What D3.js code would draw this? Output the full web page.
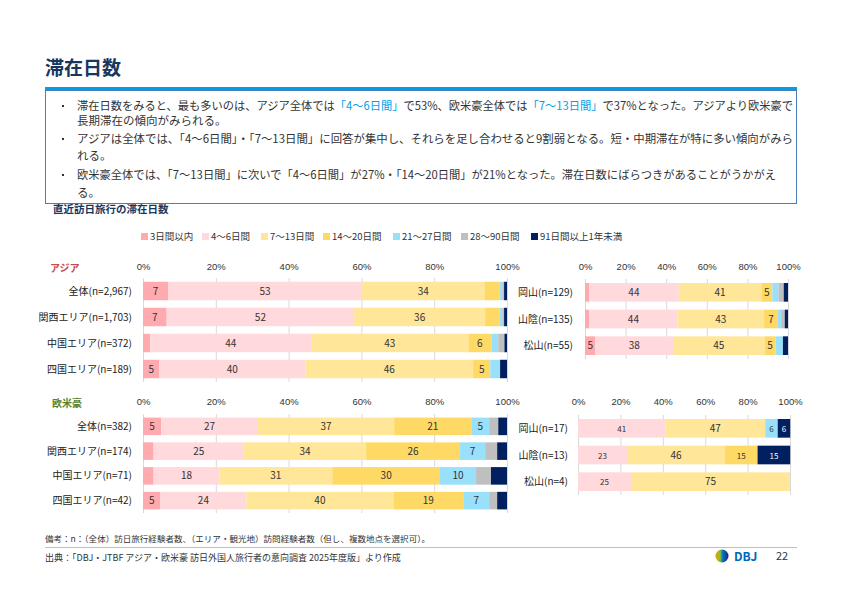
<html>
<head>
<meta charset="utf-8">
<script src="https://d3js.org/d3.v7.min.js"></script>
<style>
body { margin: 0; background: #fff; }
svg { display: block; font-family: "Noto Sans CJK JP", "Noto Sans", sans-serif; }
</style>
</head>
<body>
<div id="canvas"></div>
<script>
// legend / series
var series = ["3日間以内", "4～6日間", "7～13日間", "14～20日間", "21～27日間", "28～90日間", "91日間以上1年未満"];
var colors = ["#ffaaae", "#ffd9dc", "#ffe699", "#ffd966", "#99e0fb", "#bfbfbf", "#002060"];
var ticks = [0, 20, 40, 60, 80, 100];

// アジア
var asiaCats = ["全体(n=2,967)", "関西エリア(n=1,703)", "中国エリア(n=372)", "四国エリア(n=189)"];
var asiaVals = [
	[6.9, 53.3, 33.6, 4.2, 0.7, 0.5, 0.8],
	[6.5, 51.5, 36.0, 4.0, 0.7, 0.5, 0.8],
	[2.0, 44.2, 43.2, 6.3, 1.9, 1.7, 0.7],
	[4.5, 40.1, 46.1, 4.7, 2.7, 0.0, 1.9]
];
var asiaSpotCats = ["岡山(n=129)", "山陰(n=135)", "松山(n=55)"];
var asiaSpotVals = [
	[2.0, 44.2, 40.7, 5.4, 3.0, 2.6, 2.1],
	[2.1, 43.5, 42.6, 6.9, 1.5, 1.8, 1.6],
	[5.1, 38.3, 45.1, 5.4, 3.6, 0.0, 2.5]
];

// 欧米豪
var westCats = ["全体(n=382)", "関西エリア(n=174)", "中国エリア(n=71)", "四国エリア(n=42)"];
var westVals = [
	[5.0, 26.6, 37.4, 21.2, 4.9, 2.5, 2.4],
	[2.9, 24.8, 33.6, 25.8, 6.9, 3.3, 2.7],
	[2.9, 18.1, 31.0, 29.6, 9.9, 4.1, 4.4],
	[4.8, 23.6, 40.4, 19.2, 7.1, 2.2, 2.7]
];
var westSpotCats = ["岡山(n=17)", "山陰(n=13)", "松山(n=4)"];
var westSpotVals = [
	[0, 41.2, 47.1, 0, 5.9, 0, 5.9],
	[0, 23.1, 46.2, 15.4, 0, 0, 15.4],
	[0, 25.0, 75.0, 0, 0, 0, 0]
];

var navy = "#17375e";
var svg = d3.select("#canvas").append("svg").attr("width", 842).attr("height", 596);

// title
svg.append("text").attr("x", 45).attr("y", 75).attr("font-size", 19).attr("font-weight", "bold")
	.attr("fill", navy).text("滞在日数");
svg.append("rect").attr("x", 45).attr("y", 87).attr("width", 752).attr("height", 4).attr("fill", "#00a0e9");
svg.append("rect").attr("x", 45.5).attr("y", 90.5).attr("width", 751).attr("height", 113)
	.attr("fill", "none").attr("stroke", "#4a7ebb").attr("stroke-width", 1);

// summary text (segments: [text, highlighted])
var lines = [
	{y: 110, bullet: true, len: 716, parts: [["滞在日数をみると、最も多いのは、アジア全体では", 0], ["「4～6日間」", 1], ["で53%、欧米豪全体では", 0], ["「7～13日間」", 1], ["で37%となった。アジアより欧米豪で", 0]]},
	{y: 125, parts: [["長期滞在の傾向がみられる。", 0]]},
	{y: 143, bullet: true, len: 716, parts: [["アジアは全体では、「4～6日間」・「7～13日間」に回答が集中し、それらを足し合わせると9割弱となる。短・中期滞在が特に多い傾向がみら", 0]]},
	{y: 160, parts: [["れる。", 0]]},
	{y: 179, bullet: true, len: 699, parts: [["欧米豪全体では、「7～13日間」に次いで「4～6日間」が27%・「14～20日間」が21%となった。滞在日数にばらつきがあることがうかがえ", 0]]},
	{y: 197, parts: [["る。", 0]]}
];
lines.forEach(function(l){
	if (l.bullet) {
		svg.append("rect").attr("x", 62).attr("y", l.y - 5).attr("width", 2).attr("height", 2).attr("fill", "#333");
	}
	var t = svg.append("text").attr("x", 77).attr("y", l.y).attr("font-size", 11.5).attr("fill", "#333");
	if (l.len) t.attr("textLength", l.len).attr("lengthAdjust", "spacingAndGlyphs");
	l.parts.forEach(function(p){
		t.append("tspan").attr("fill", p[1] ? "#00a0e9" : "#333").text(p[0]);
	});
});

svg.append("text").attr("x", 53).attr("y", 213).attr("font-size", 10.5).attr("font-weight", "bold")
	.attr("fill", navy).text("直近訪日旅行の滞在日数");

// legend
var legX = [141, 202, 261, 323, 393, 461, 531];
var leg = svg.append("g").selectAll("g").data(series).enter().append("g")
	.attr("transform", function(d, i){ return "translate(" + legX[i] + ",236.5)"; });
leg.append("rect").attr("x", 0).attr("y", -3.5).attr("width", 7).attr("height", 7)
	.attr("fill", function(d, i){ return colors[i]; });
leg.append("text").attr("x", 9).attr("y", 3.5).attr("font-size", 9.5).attr("fill", "#333").text(function(d){ return d; });

// section labels
svg.append("text").attr("x", 50).attr("y", 272).attr("font-size", 10).attr("font-weight", "bold")
	.attr("fill", "#c0504d").text("アジア");
svg.append("text").attr("x", 52).attr("y", 407).attr("font-size", 10).attr("font-weight", "bold")
	.attr("fill", "#548235").text("欧米豪");

function drawPanel(cats, vals, o){
	var x = d3.scaleLinear().domain([0, 100]).range([o.x0, o.x1]);
	var y = d3.scaleBand().domain(cats).range([o.y0, o.y1]).paddingInner(o.pad).paddingOuter(o.pad / 2);
	var g = svg.append("g");

	// grid
	g.selectAll(".grid").data(ticks).enter().append("line")
		.attr("x1", function(d){ return x(d) + 0.5; }).attr("x2", function(d){ return x(d) + 0.5; })
		.attr("y1", o.y0).attr("y2", o.y1)
		.attr("stroke", "#d9d9d9").attr("stroke-width", 1);

	// axis labels
	var ax = g.append("g").attr("transform", "translate(0," + o.ty + ")")
		.call(d3.axisTop(x).tickValues(ticks).tickSize(0).tickPadding(0).tickFormat(function(d){ return d + "%"; }));
	ax.select(".domain").remove();
	ax.selectAll("text").attr("font-size", 9.5).attr("fill", "#333").attr("font-family", null);

	// category labels
	g.selectAll(".cat").data(cats).enter().append("text")
		.attr("x", o.lx).attr("y", function(d){ return y(d) + y.bandwidth() / 2 + 3.5; })
		.attr("text-anchor", "end").attr("font-size", 10).attr("fill", "#222").text(function(d){ return d; });

	// stacked bars
	var rows = cats.map(function(c, i){
		var acc = 0;
		return vals[i].map(function(v, k){ var s = {cat: c, k: k, v: v, a: acc}; acc += v; return s; });
	});
	var rg = g.selectAll(".row").data(rows).enter().append("g");
	rg.selectAll("rect").data(function(d){ return d; }).enter().append("rect")
		.attr("x", function(d){ return x(d.a); })
		.attr("y", function(d){ return y(d.cat); })
		.attr("width", function(d){ return x(d.a + d.v) - x(d.a); })
		.attr("height", y.bandwidth())
		.attr("fill", function(d){ return colors[d.k]; });
	rg.selectAll("text").data(function(d){ return d.filter(function(s){ return s.v >= 4.5; }); }).enter().append("text")
		.attr("x", function(d){ return x(d.a + d.v / 2); })
		.attr("y", function(d){ return y(d.cat) + y.bandwidth() / 2 + 3.5; })
		.attr("text-anchor", "middle")
		.attr("font-size", function(d){ return o.small && d.k !== 2 ? 8 : 10; })
		.attr("fill", function(d){ return d.k === 6 ? "#fff" : "#333"; })
		.text(function(d){ return Math.round(d.v); });
}

drawPanel(asiaCats, asiaVals, {x0: 143, x1: 507, y0: 278, y1: 382, pad: 0.29, ty: 269.5, lx: 132});
drawPanel(asiaSpotCats, asiaSpotVals, {x0: 585, x1: 788, y0: 279, y1: 359, pad: 0.3, ty: 269.5, lx: 573});
drawPanel(westCats, westVals, {x0: 143, x1: 507, y0: 414, y1: 513, pad: 0.29, ty: 405, lx: 132});
drawPanel(westSpotCats, westSpotVals, {x0: 578, x1: 790, y0: 415, y1: 495, pad: 0.3, ty: 405, lx: 568, small: true});

// footer
svg.append("text").attr("x", 45).attr("y", 542).attr("font-size", 8.5).attr("fill", "#333")
	.attr("textLength", 385).attr("lengthAdjust", "spacingAndGlyphs")
	.text("備考：n：（全体）訪日旅行経験者数、（エリア・観光地）訪問経験者数（但し、複数地点を選択可）。");
svg.append("line").attr("x1", 45).attr("x2", 797).attr("y1", 547.5).attr("y2", 547.5).attr("stroke", "#bfbfbf");
svg.append("text").attr("x", 45).attr("y", 560.5).attr("font-size", 9).attr("fill", "#333")
	.text("出典：「DBJ・JTBF アジア・欧米豪 訪日外国人旅行者の意向調査 2025年度版」より作成");

var grad = svg.append("defs").append("linearGradient").attr("id", "dbjg").attr("x1", "0").attr("x2", "1");
grad.append("stop").attr("offset", "0").attr("stop-color", "#f39800");
grad.append("stop").attr("offset", "0.35").attr("stop-color", "#8fc31f");
grad.append("stop").attr("offset", "0.55").attr("stop-color", "#0075c2");
grad.append("stop").attr("offset", "1").attr("stop-color", "#1d2088");
svg.append("circle").attr("cx", 722).attr("cy", 556).attr("r", 6.5).attr("fill", "url(#dbjg)");
svg.append("text").attr("x", 734).attr("y", 560.5).attr("font-size", 12).attr("font-weight", "bold")
	.attr("fill", "#0068b7").text("DBJ");
svg.append("text").attr("x", 776).attr("y", 560).attr("font-size", 11).attr("fill", "#333").text("22");
</script>
</body>
</html>
